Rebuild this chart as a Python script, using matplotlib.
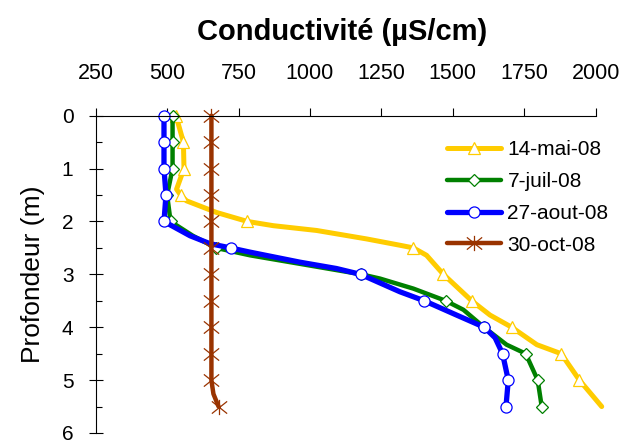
import numpy as np
import matplotlib.pyplot as plt
from matplotlib.path import Path

plt.rcParams['font.family'] = ['Liberation Sans', 'DejaVu Sans']

# Profondeur (m) / conductivite (uS/cm)
prof_mai = [0.0, 0.5, 1.0, 1.39, 1.5, 1.61, 1.83, 2.0, 2.08, 2.17, 2.33, 2.45, 2.5,
            2.64, 3.0, 3.5, 3.77, 4.0, 4.33, 4.5, 5.0, 5.5]
cond_mai = [531, 557, 559, 533, 547, 568, 673, 781, 872, 1023, 1198, 1315, 1362,
            1408, 1467, 1566, 1630, 1706, 1794, 1879, 1943, 2021]

prof_juil = [0.0, 0.5, 1.0, 1.5, 2.0, 2.27, 2.5, 2.64, 3.0, 3.08, 3.27, 3.5, 3.67,
             4.0, 4.33, 4.5, 5.0, 5.5]
cond_juil = [519, 519, 519, 500, 512, 590, 671, 790, 1180, 1245, 1362, 1475, 1537,
             1609, 1688, 1755, 1797, 1811]

prof_aout = [0.0, 0.5, 1.0, 1.5, 2.0, 2.27, 2.42, 2.5, 2.58, 2.77, 2.89, 3.0, 3.33,
             3.5, 3.77, 4.0, 4.2, 4.5, 5.0, 5.5]
cond_aout = [489, 489, 489, 496, 489, 580, 650, 722, 790, 965, 1093, 1177, 1315,
             1400, 1513, 1610, 1648, 1674, 1694, 1686]

prof_oct = [0.0, 0.5, 1.0, 1.5, 2.0, 2.5, 3.0, 3.5, 4.0, 4.5, 5.0, 5.26, 5.5]
cond_oct = [655, 655, 655, 655, 655, 655, 655, 655, 655, 655, 655, 662, 680]

labels = ['14-mai-08', '7-juil-08', '27-aout-08', '30-oct-08']
xticks = [250, 500, 750, 1000, 1250, 1500, 1750, 2000]

# marqueur etoile facon Excel (X + trait vertical)
etoile = Path([(-1, -0.8), (1, 0.8), (-1, 0.8), (1, -0.8), (0, -1), (0, 1)],
              [Path.MOVETO, Path.LINETO, Path.MOVETO, Path.LINETO, Path.MOVETO, Path.LINETO])


def marques(prof, cond):
    # marqueurs tous les 0.5 m, seulement dans l'axe
    p = np.array(prof)
    c = np.array(cond)
    return list(np.where(np.isclose(p * 2, np.round(p * 2)) & (c <= 2000))[0])


fig = plt.figure(figsize=(6.26, 4.43), dpi=100)
ax = fig.add_axes([95.7 / 626, 1 - 433 / 443, 500 / 626, (433 - 115.7) / 443])

series = [
    (prof_mai, cond_mai, '#FFCC00', '^', 8.5, 3.6),
    (prof_juil, cond_juil, '#008000', 'D', 6.0, 3.2),
    (prof_aout, cond_aout, '#0000FF', 'o', 8.0, 3.8),
    (prof_oct, cond_oct, '#993300', etoile, 11.0, 3.2),
]
for (p, c, col, mk, ms, lw), lab in zip(series, labels):
    ax.plot(c, p, color=col, lw=lw, marker=mk, ms=ms, mfc='white', mec=col,
            mew=0.9, markevery=marques(p, c), label=lab, clip_on=False,
            solid_capstyle='round', solid_joinstyle='round')

ax.set_xlim(250, 2000)
ax.set_ylim(6, 0)
ax.xaxis.tick_top()
ax.set_xticks(xticks)
ax.set_yticks(range(7))
ax.set_yticks(np.arange(0.5, 6, 1), minor=True)
ax.tick_params(axis='x', direction='out', length=5.8, width=0.8, pad=17, labelsize=15.5)
ax.tick_params(axis='y', which='major', direction='inout', length=10, width=0.8,
               pad=11, labelsize=15)
ax.tick_params(axis='y', which='minor', direction='in', length=4.3, width=0.8)
ax.spines['right'].set_visible(False)
ax.spines['bottom'].set_visible(False)
for s in ['top', 'left']:
    ax.spines[s].set_linewidth(0.8)

ax.set_ylabel('Profondeur (m)', fontsize=19, labelpad=12)
fig.text(342 / 626, 1 - 32 / 443, 'Conductivité (µS/cm)', fontsize=21,
         fontweight='bold', ha='center', va='center')

ax.legend(loc='upper left', bbox_to_anchor=(447 / 626, 1 - 140 / 443),
          bbox_transform=fig.transFigure, frameon=False, fontsize=15,
          borderpad=0, borderaxespad=0, handlelength=2.6, handletextpad=0.3,
          labelspacing=0.62)

fig.savefig('out.png', dpi=100)
